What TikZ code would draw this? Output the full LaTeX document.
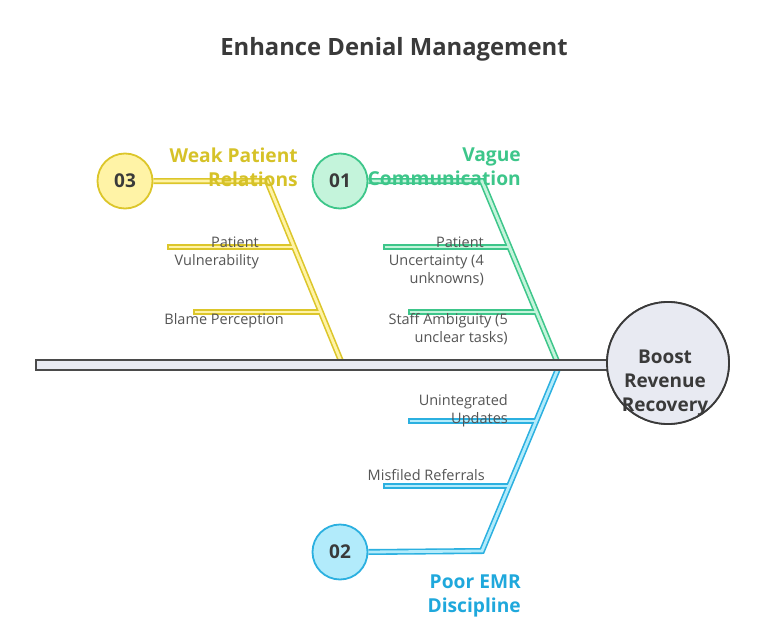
\documentclass[tikz,border=0pt]{standalone}
\usepackage{fontspec}
\setmainfont{Open Sans}
\usetikzlibrary{calc}
\definecolor{ylw}{HTML}{DCC62A}
\definecolor{ylwfill}{HTML}{FFF3A6}
\definecolor{ylwtext}{HTML}{D6C228}
\definecolor{grn}{HTML}{3DC68A}
\definecolor{grnfill}{HTML}{C4F4DB}
\definecolor{blu}{HTML}{2BB0E0}
\definecolor{blufill}{HTML}{B2EBFB}
\definecolor{blutext}{HTML}{1FA8DC}
\definecolor{spinefill}{HTML}{E8EAF2}
\definecolor{spinedraw}{HTML}{4A4A4A}
\definecolor{darktext}{HTML}{3A3A3A}
\definecolor{labeltext}{HTML}{555555}
\tikzset{
  boneout/.style={draw=#1, line width=6pt},
  bonein/.style={draw=#1, line width=2.8pt},
  numcircle/.style={circle, minimum size=55pt, inner sep=0pt, line width=1.8pt,
    font=\bfseries\fontsize{19}{22}\selectfont, text=darktext},
  cattitle/.style={font=\bfseries\fontsize{19.2}{24}\selectfont, align=right, inner sep=0pt, anchor=north east},
  lbl/.style={font=\fontsize{14.5}{18}\selectfont, text=labeltext, align=right, inner sep=0pt, anchor=north east},
}
\begin{document}
\begin{tikzpicture}[x=1pt, y=-1pt]
\useasboundingbox (0,0) rectangle (764,637);
\fill[white] (0,0) rectangle (764,637);

% title
\node[font=\bfseries\fontsize{23.8}{28}\selectfont, text=darktext] (title) at (394,49) {Enhance Denial Management};

% head
\node[circle, minimum size=122pt, inner sep=0pt, fill=spinefill, draw=darktext, line width=1.8pt] (head) at (668,363) {};

% number circles
\node[numcircle, fill=ylwfill, draw=ylw] (c3) at (125,181) {03};
\node[numcircle, fill=grnfill, draw=grn] (c1) at (340,181) {01};
\node[numcircle, fill=blufill, draw=blu] (c2) at (340,552) {02};

% joint coordinates
\coordinate (k3) at (267,181);
\coordinate (s3) at (343,366);
\coordinate (k1) at (482,181);
\coordinate (s1) at (559,366);
\coordinate (k2) at (482,551);
\coordinate (s2) at (560,364);

\coordinate (a3) at (167,247);  \coordinate (j3a) at (294,247);
\coordinate (b3) at (193,312);  \coordinate (j3b) at (320,312);
\coordinate (a1) at (383,247);  \coordinate (j1a) at (510,247);
\coordinate (b1) at (408,312);  \coordinate (j1b) at (536,312);
\coordinate (a2) at (408,421);  \coordinate (j2a) at (537,421);
\coordinate (b2) at (383,486);  \coordinate (j2b) at (510,486);

% bones: outlines
\draw[boneout=ylw] (a3) -- (j3a);
\draw[boneout=ylw] (b3) -- (j3b);
\draw[boneout=ylw] (c3.east) -- (k3) -- (s3);
\draw[boneout=grn] (a1) -- (j1a);
\draw[boneout=grn] (b1) -- (j1b);
\draw[boneout=grn] (c1.east) -- (k1) -- (s1);
\draw[boneout=blu] (a2) -- (j2a);
\draw[boneout=blu] (b2) -- (j2b);
\draw[boneout=blu] (c2.east) -- (k2) -- (s2);
% bones: fills
\draw[bonein=ylwfill] ([xshift=1.6pt]a3) -- (j3a);
\draw[bonein=ylwfill] ([xshift=1.6pt]b3) -- (j3b);
\draw[bonein=ylwfill] (c3.east) -- (k3) -- (s3);
\draw[bonein=grnfill] ([xshift=1.6pt]a1) -- (j1a);
\draw[bonein=grnfill] ([xshift=1.6pt]b1) -- (j1b);
\draw[bonein=grnfill] (c1.east) -- (k1) -- (s1);
\draw[bonein=blufill] ([xshift=1.6pt]a2) -- (j2a);
\draw[bonein=blufill] ([xshift=1.6pt]b2) -- (j2b);
\draw[bonein=blufill] (c2.east) -- (k2) -- (s2);

% spine
\coordinate (tail) at (36,360);
\coordinate (tailb) at (612,370);
\draw[draw=spinedraw, fill=spinefill, line width=1.6pt] (tail) rectangle (tailb);
\node[circle, minimum size=122pt, inner sep=0pt, fill=spinefill, draw=darktext, line width=1.8pt] (headring) at (head) {};
\node[font=\bfseries\fontsize{19}{24}\selectfont, text=darktext, align=center] (headtext) at (665,383) {Boost\\Revenue\\Recovery};

% category titles
\node[cattitle, text=ylwtext] (t3) at (298,148) {Weak Patient\\Relations};
\node[cattitle, text=grn] (t1) at (521,148) {Vague\\Communication};
\node[cattitle, text=blutext] (t2) at (521,575) {Poor EMR\\Discipline};

% labels
\node[lbl] (l3a) at (259,237) {Patient\\Vulnerability};
\node[lbl] (l3b) at (284,313) {Blame Perception};
\node[lbl] (l1a) at (484,237) {Patient\\Uncertainty (4\\unknowns)};
\node[lbl] (l1b) at (508,313) {Staff Ambiguity (5\\unclear tasks)};
\node[lbl] (l2a) at (508,394) {Unintegrated\\Updates};
\node[lbl] (l2b) at (485,469) {Misfiled Referrals};
\end{tikzpicture}
\end{document}
